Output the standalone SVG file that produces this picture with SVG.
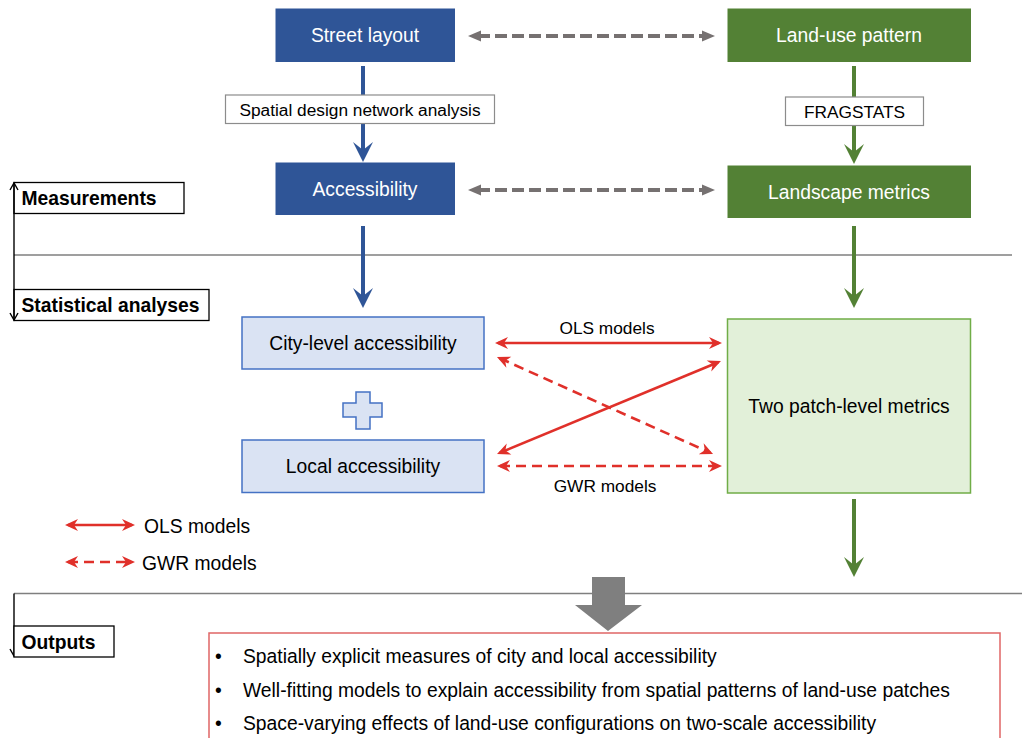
<svg xmlns="http://www.w3.org/2000/svg" width="1022" height="738" viewBox="0 0 1022 738">
<style>
text{font-family:"Liberation Sans",Arial,sans-serif;font-size:19.3px;fill:#000}
.w{fill:#fff;text-anchor:middle}
.c{text-anchor:middle}
.s{font-size:17.3px}
.b{font-weight:bold}
.dark-b{fill:#2F5597;stroke:#2F5597}
.dark-g{fill:#538135;stroke:#538135}
.lb{fill:#DAE3F3;stroke:#4472C4;stroke-width:1.5}
.lg{fill:#E2F0D9;stroke:#70AD47;stroke-width:1.5}
.lab{fill:#fff;stroke:#8C8C8C;stroke-width:1.2}
.tag{fill:#fff;stroke:#000;stroke-width:1.3}
.sep{stroke:#7F7F7F;stroke-width:1.5;fill:none}
.vb{stroke:#000;stroke-width:1.4;fill:none}
.blue{stroke:#2F5597;stroke-width:4;fill:none}
.green{stroke:#538135;stroke-width:4;fill:none}
.gd{stroke:#767171;stroke-width:4;stroke-dasharray:12 5;fill:none}
.rs{stroke:#E0302A;stroke-width:2.6;fill:none}
.rd{stroke:#E0302A;stroke-width:2.6;stroke-dasharray:10 6;fill:none}
</style>
<defs>
<marker id="mBlue" markerUnits="userSpaceOnUse" orient="auto" overflow="visible" refX="-8" refY="0" markerWidth="1" markerHeight="1"><path d="M-20,-10 L0,0 L-20,10 L-12,0 Z" fill="#2F5597"/></marker>
<marker id="mGreen" markerUnits="userSpaceOnUse" orient="auto" overflow="visible" refX="-8" refY="0" markerWidth="1" markerHeight="1"><path d="M-20,-10 L0,0 L-20,10 L-12,0 Z" fill="#538135"/></marker>
<marker id="mGray" markerUnits="userSpaceOnUse" orient="auto-start-reverse" overflow="visible" refX="-10" refY="0" markerWidth="1" markerHeight="1"><path d="M-13,-5.5 L0,0 L-13,5.5 Z" fill="#767171"/></marker>
<marker id="mRed" markerUnits="userSpaceOnUse" orient="auto-start-reverse" overflow="visible" refX="-3" refY="0" markerWidth="1" markerHeight="1"><path d="M-13,-6 L0,0 L-13,6 L-9,0 Z" fill="#E0302A"/></marker>
<marker id="mBlk" markerUnits="userSpaceOnUse" orient="auto-start-reverse" overflow="visible" refX="0" refY="0" markerWidth="1" markerHeight="1"><path d="M-7,-4 L0,0 L-7,4" fill="none" stroke="#000" stroke-width="1.4"/></marker>
</defs>

<g id="separators">
<line class="sep" x1="14" y1="255" x2="1012" y2="255"/>
<line class="sep" x1="14" y1="593.5" x2="1022" y2="593.5"/>
</g>

<g id="connectors">
<line class="blue" x1="363" y1="66" x2="363" y2="154" marker-end="url(#mBlue)"/>
<line class="green" x1="854" y1="66" x2="854" y2="156" marker-end="url(#mGreen)"/>
<line class="blue" x1="363" y1="226" x2="363" y2="300" marker-end="url(#mBlue)"/>
<line class="green" x1="854" y1="226" x2="854" y2="300" marker-end="url(#mGreen)"/>
<line class="green" x1="854" y1="499" x2="854" y2="569" marker-end="url(#mGreen)"/>
<line class="gd" x1="478" y1="36" x2="705" y2="36" marker-start="url(#mGray)" marker-end="url(#mGray)"/>
<line class="gd" x1="478" y1="190" x2="705" y2="190" marker-start="url(#mGray)" marker-end="url(#mGray)"/>
<line class="rs" x1="498" y1="343" x2="719" y2="343" marker-start="url(#mRed)" marker-end="url(#mRed)"/>
<line class="rd" x1="499.7" y1="358.2" x2="710.3" y2="452.8" marker-start="url(#mRed)" marker-end="url(#mRed)"/>
<line class="rs" x1="499.8" y1="452.8" x2="718.2" y2="362.2" marker-start="url(#mRed)" marker-end="url(#mRed)"/>
<line class="rd" x1="500" y1="466" x2="719" y2="466" marker-start="url(#mRed)" marker-end="url(#mRed)"/>
<text class="c s" x="607" y="334">OLS models</text>
<text class="c s" x="605" y="491.5">GWR models</text>
</g>

<g id="street-layout">
<rect class="dark-b" x="276" y="9" width="178.5" height="52.5"/>
<text class="w" x="365" y="42">Street layout</text>
</g>
<g id="land-use-pattern">
<rect class="dark-g" x="728" y="9" width="242.5" height="52.5"/>
<text class="w" x="849" y="42">Land-use pattern</text>
</g>
<g id="sdna-label">
<rect class="lab" x="225.5" y="95" width="269" height="28.5"/>
<text class="c s" x="360" y="115.5">Spatial design network analysis</text>
</g>
<g id="fragstats-label">
<rect class="lab" x="785.5" y="97" width="138" height="28.5"/>
<text class="c s" x="854.5" y="117.5">FRAGSTATS</text>
</g>
<g id="accessibility">
<rect class="dark-b" x="276" y="163" width="178.5" height="51.5"/>
<text class="w" x="365" y="195.5">Accessibility</text>
</g>
<g id="landscape-metrics">
<rect class="dark-g" x="728" y="166" width="242.5" height="51.5"/>
<text class="w" x="849" y="198.5">Landscape metrics</text>
</g>

<g id="measurements">
<rect class="tag" x="14" y="182.5" width="170" height="31"/>
<text class="b" x="21.5" y="205">Measurements</text>
</g>
<g id="statistical-analyses">
<rect class="tag" x="14" y="289.5" width="195" height="31"/>
<text class="b" x="21.5" y="312">Statistical analyses</text>
</g>

<g id="stage-arrows">
<line class="vb" x1="14" y1="183" x2="14" y2="320" marker-start="url(#mBlk)" marker-end="url(#mBlk)"/>
<line class="vb" x1="14" y1="593.5" x2="14" y2="656" marker-end="url(#mBlk)"/>
</g>

<g id="city-level">
<rect class="lb" x="242" y="317" width="242" height="52"/>
<text class="c" x="363" y="350">City-level accessibility</text>
</g>
<g id="plus">
<path class="lb" d="M356,392 H370 V403 H382 V417 H370 V429 H356 V417 H343 V403 H356 Z"/>
</g>
<g id="local">
<rect class="lb" x="242" y="440" width="242" height="52.5"/>
<text class="c" x="363" y="473">Local accessibility</text>
</g>
<g id="two-patch">
<rect class="lg" x="727.5" y="319" width="243" height="174"/>
<text class="c" x="849" y="413">Two patch-level metrics</text>
</g>

<g id="legend">
<line class="rs" x1="68" y1="525" x2="132" y2="525" marker-start="url(#mRed)" marker-end="url(#mRed)"/>
<text x="144" y="532.5">OLS models</text>
<line class="rd" x1="68" y1="562" x2="132" y2="562" marker-start="url(#mRed)" marker-end="url(#mRed)" stroke-dasharray="8 6"/>
<text x="142" y="570">GWR models</text>
</g>

<g id="big-arrow">
<polygon points="592,577 625,577 625,605 642,605 608,631 575,605 592,605" fill="#7F7F7F"/>
</g>

<g id="outputs">
<rect class="tag" x="14" y="626" width="100" height="31"/>
<text class="b" x="21.5" y="648.5">Outputs</text>
</g>

<g id="outputs-list">
<rect x="209" y="633" width="791" height="130" fill="#fff" stroke="#E06666" stroke-width="1.5"/>
<text x="215" y="663">•</text>
<text x="243" y="663">Spatially explicit measures of city and local accessibility</text>
<text x="215" y="697">•</text>
<text x="243" y="697">Well-fitting models to explain accessibility from spatial patterns of land-use patches</text>
<text x="215" y="730">•</text>
<text x="243" y="730">Space-varying effects of land-use configurations on two-scale accessibility</text>
</g>
</svg>
